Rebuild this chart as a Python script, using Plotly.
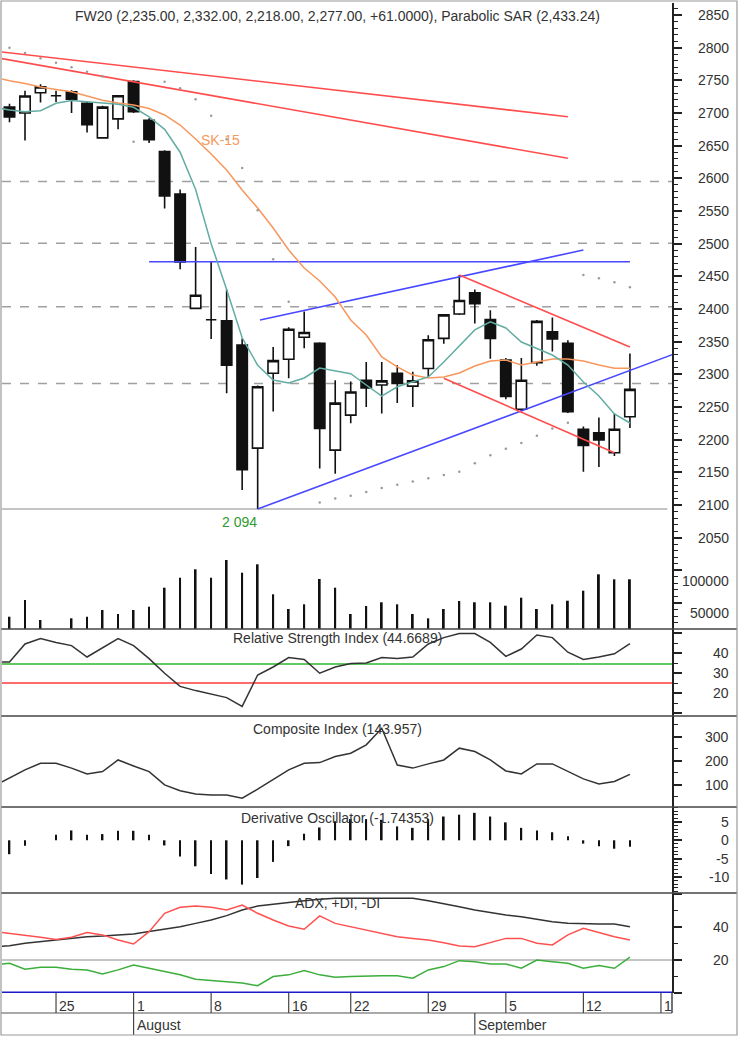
import plotly.graph_objects as go

# ---------------- data ----------------
dates = ["2011-07-20", "2011-07-21", "2011-07-22", "2011-07-25", "2011-07-26", "2011-07-27",
         "2011-07-28", "2011-07-29", "2011-08-01", "2011-08-02", "2011-08-03", "2011-08-04",
         "2011-08-05", "2011-08-08", "2011-08-09", "2011-08-10", "2011-08-11", "2011-08-12",
         "2011-08-16", "2011-08-17", "2011-08-18", "2011-08-19", "2011-08-22", "2011-08-23",
         "2011-08-24", "2011-08-25", "2011-08-26", "2011-08-29", "2011-08-30", "2011-08-31",
         "2011-09-01", "2011-09-02", "2011-09-05", "2011-09-06", "2011-09-07", "2011-09-08",
         "2011-09-09", "2011-09-12", "2011-09-13", "2011-09-14", "2011-09-15"]
future_sessions = ["2011-09-16", "2011-09-19"]

open_ = [2709, 2700, 2731, 2726.5, 2732.6, 2715, 2662, 2691, 2748, 2689, 2641, 2576, 2401, 2383.6,
         2382, 2345, 2187, 2301.6, 2323, 2356.7, 2347.5, 2184, 2237.5, 2291, 2283.7, 2301.6, 2282,
         2309, 2355, 2392.4, 2425, 2384, 2322, 2246.5, 2318, 2365, 2347.5, 2216, 2210.6, 2180, 2235]
high = [2714, 2734, 2744, 2734, 2735, 2717, 2711, 2727, 2750, 2692, 2643, 2583, 2495, 2472, 2430,
        2355, 2283, 2342, 2372, 2396, 2349, 2291, 2289, 2319, 2319, 2314, 2304, 2360, 2392, 2452,
        2430, 2398, 2325, 2325, 2383, 2387, 2352, 2220, 2234, 2240, 2332]
low = [2686, 2658, 2716, 2717, 2700, 2670, 2661, 2675, 2700, 2654, 2554, 2461, 2401, 2354, 2271,
       2123, 2094, 2243, 2294, 2340, 2156, 2148, 2225, 2250, 2240, 2256, 2250, 2296, 2347, 2391,
       2378, 2324, 2262, 2243, 2313, 2335, 2241, 2151, 2158, 2175, 2218]
close = [2694, 2726, 2740, 2726.5, 2721, 2682, 2709, 2726.5, 2702, 2659, 2573, 2472, 2421, 2383.6,
         2314, 2154, 2281, 2321, 2369, 2364, 2217, 2256, 2273, 2279, 2290, 2286, 2290, 2353, 2391,
         2413, 2408, 2355, 2266, 2291, 2381, 2354, 2243, 2191, 2199.5, 2216, 2277]
volume = [43300, 69800, 38100, 22000, 40800, 43300, 54000, 47600, 54000, 59200, 89400, 105200,
          118600, 105200, 133300, 113200, 126500, 78900, 55600, 63000, 103200, 89400, 47600, 60300,
          66200, 63000, 47600, 40800, 55600, 68300, 66200, 66200, 60800, 73500, 55600, 63000, 68700,
          84600, 110600, 102700, 102700]
sar = [2800, 2792, 2784, 2777, 2770, 2763, 2756, None, 2656, None, 2748, 2738, 2721, 2696, 2660,
       2616, 2551, 2476, 2411, None, 2104, 2110, 2114, 2120, 2126, 2131, 2136, 2141, 2146, 2151,
       2164, 2176, 2186, 2195, 2206, 2217, 2226, 2452, 2447, 2441, 2433.24]
derivative = [-3.8, -1.5, 0, 1.5, 2.7, 1.5, 1.7, 2.6, 2.6, 1.5, -1.4, -4.4, -7.1, -9.2, -10.7,
              -12.1, -10.3, -5.9, -1.6, 1.8, 3.5, 5.2, 5.8, 5.8, 5.6, 3.8, 3.4, 5.8, 6.5, 7.0, 7.5,
              6.5, 4.9, 3.4, 2.7, 2.2, 1.1, -0.9, -1.6, -2.3, -1.74353]

# line indicators start one session earlier (2011-07-19)
ma_short = [2709, 2704.6, 2702, 2703.5, 2714.9, 2719, 2717.3, 2715, 2713.3, 2708.7, 2694.3, 2675,
            2640, 2583, 2500, 2430, 2356, 2314, 2291.3, 2286.7, 2294.4, 2309.7, 2305, 2301, 2283.7,
            2266.8, 2281, 2288.7, 2296, 2319, 2343.4, 2368, 2380.4, 2370.9, 2349.5, 2339, 2329.6,
            2314.3, 2288.3, 2266.8, 2239.3, 2225.5]
ma_sk15 = [2755, 2749.4, 2745.2, 2739.8, 2736, 2732.4, 2726, 2719.4, 2715.3, 2712.3, 2706.9, 2697,
           2681.6, 2660.2, 2637.2, 2612.8, 2582.1, 2554.6, 2524, 2490.3, 2462.8, 2442.9, 2418.4,
           2383.2, 2360.2, 2326.6, 2311.3, 2299, 2294.4, 2296, 2302.1, 2312.8, 2320.4, 2322,
           2314.3, 2318.9, 2323.5, 2323.5, 2320.4, 2314.3, 2309.3, 2309.3]
rsi = [35.5, 35.5, 44.5, 47.2, 45.3, 43.7, 38, 42.8, 47.2, 43.7, 37.2, 29.9, 23.3, 21.2, 19.6, 17.7,
       13.3, 29, 33, 37.7, 36.8, 29.9, 33, 34.7, 35, 37.7, 37.2, 38, 44.5, 47.7, 49.7, 49.7, 45.3,
       38.3, 42, 49, 47.7, 40.4, 36.8, 38, 39.6, 44.6689]
composite = [95, 128, 162.5, 190, 190, 170, 146, 155.5, 204, 179, 155.5, 100, 76, 62.5, 58, 58, 44.6,
             82, 121, 162.5, 190, 193, 218, 232, 267, 336, 183, 170, 187.5, 204, 253, 239, 204, 158,
             146, 187.5, 187.5, 155.5, 125, 104, 114, 143.957]
adx = [27.8, 28.7, 30.1, 31.1, 32.5, 33.1, 34.1, 34.5, 35.2, 35.8, 37.2, 38.6, 40.2, 42.2, 44.2,
       46.9, 50.3, 52.7, 53.9, 54.7, 55.9, 56.8, 57.4, 57.4, 57.4, 57.4, 57.4, 57.4, 55.9, 54.3,
       52.3, 50.3, 48.7, 47.3, 46.2, 44.6, 43.2, 42.2, 41.8, 41.8, 41.8, 40.2]
minus_di = [37.2, 36.2, 35.2, 33.8, 32.5, 33.8, 36.6, 35.2, 32.1, 29.7, 37.2, 48.3, 51.9, 52.7, 51.9,
            50.3, 53.3, 48.3, 44.2, 40.6, 38.6, 46.7, 42.2, 40.2, 38.2, 36.2, 34.1, 33.1, 32.1,
            30.5, 28.5, 28.1, 30.5, 33.1, 33.1, 30.1, 29.1, 35.2, 39.2, 36.6, 34.1, 32.1]
plus_di = [17.0, 18, 14.4, 15.6, 15.6, 14.4, 14, 11.6, 14, 17, 15, 13, 11, 8.4, 7.6, 6.4, 6, 4.4, 10,
           11, 13.6, 11, 9.6, 10, 10.4, 10.4, 10.4, 9, 14, 16, 19.6, 19, 17.6, 17.6, 15, 20, 19, 18,
           15, 16.6, 15, 21.7]

# drawn trend lines (session index, price)
red_res1_x, red_res1_y = [-0.61, 36], [2793.8, 2694.3]
red_res2_x, red_res2_y = [-0.61, 36], [2783.7, 2630.7]
blue_hor_x, blue_hor_y = [9, 40], [2472.4, 2472.4]
blue_up_x, blue_up_y = [16.15, 37.0], [2383.2, 2490.3]
blue_low_x, blue_low_y = [16, 43], [2094, 2332.5]
red_ch_up_x, red_ch_up_y = [29, 40], [2452, 2342]
red_ch_low_x, red_ch_low_y = [28, 39], [2294, 2180]
dashed_levels = [2595, 2500.5, 2403.5, 2286]
low_level = 2094
rsi_green_level, rsi_red_level = 34.5, 25
adx_ref_level = 20

day_tick_dates = ["2011-07-25", "2011-08-01", "2011-08-08", "2011-08-16", "2011-08-22",
                  "2011-08-29", "2011-09-05", "2011-09-12", "2011-09-19"]
day_tick_text = ["25", "1", "8", "16", "22", "29", "5", "12", "1"]
month_tick_dates = ["2011-08-01", "2011-09-01"]
month_tick_text = ["August", "September"]

price_ticks = list(range(2050, 2851, 50))
volume_ticks = [50000, 100000]
rsi_ticks = [20, 30, 40]
comp_ticks = [100, 200, 300]
deriv_ticks = [-10, -5, 0, 5]
adx_ticks = [20, 40]

title_text = "FW20 (2,235.00, 2,332.00, 2,218.00, 2,277.00, +61.0000), Parabolic SAR (2,433.24)"

# ---------------- geometry ----------------
W, H = 740, 1037
ML, MR, MT, MB = 2, 68, 3, 44
PW, PH = W - ML - MR, H - MT - MB


def ypap(py):
    return (H - MB - py) / PH


def xpap(px):
    return (px - ML) / PW


edges = [3, 629, 716, 807, 893, 993]
dom = [[ypap(edges[i + 1]), ypap(edges[i])] for i in range(5)]

FONT = "Liberation Sans, Arial, sans-serif"
TXT = "#333333"
AX = "#222222"

sessions = dates + future_sessions
x = list(range(len(dates)))
xl = list(range(-1, len(dates)))

fig = go.Figure()

# price panel
for lx, ly, col in [(red_res1_x, red_res1_y, "#ff4d4d"), (red_res2_x, red_res2_y, "#ff4d4d"),
                    (blue_hor_x, blue_hor_y, "#4848ff"), (blue_up_x, blue_up_y, "#4848ff"),
                    (blue_low_x, blue_low_y, "#4848ff"), (red_ch_up_x, red_ch_up_y, "#ff4d4d"),
                    (red_ch_low_x, red_ch_low_y, "#ff4d4d")]:
    fig.add_trace(go.Scatter(x=lx, y=ly, mode="lines", line=dict(color=col, width=1.6),
                             xaxis="x", yaxis="y", hoverinfo="skip"))

fig.add_trace(go.Scatter(x=xl, y=ma_sk15, mode="lines", line=dict(color="#f7975d", width=1.5),
                         xaxis="x", yaxis="y"))
fig.add_trace(go.Scatter(x=xl, y=ma_short, mode="lines", line=dict(color="#62ada3", width=1.5),
                         xaxis="x", yaxis="y"))
fig.add_trace(go.Scatter(x=x, y=sar, mode="markers", marker=dict(color="#9a9a9a", size=2.5),
                         xaxis="x", yaxis="y"))
fig.add_trace(go.Candlestick(
    x=x, open=open_, high=high, low=low, close=close, xaxis="x", yaxis="y",
    increasing=dict(line=dict(color="#111111", width=1.6), fillcolor="#ffffff"),
    decreasing=dict(line=dict(color="#111111", width=1.6), fillcolor="#111111"),
    whiskerwidth=0))
fig.add_trace(go.Bar(x=x, y=volume, width=0.12, marker=dict(color="#111111", line=dict(width=0)),
                     xaxis="x", yaxis="y6"))

# RSI
fig.add_trace(go.Scatter(x=xl, y=rsi, mode="lines", line=dict(color="#333333", width=1.5),
                         xaxis="x", yaxis="y2"))
# Composite
fig.add_trace(go.Scatter(x=xl, y=composite, mode="lines", line=dict(color="#333333", width=1.5),
                         xaxis="x", yaxis="y3"))
# Derivative oscillator
fig.add_trace(go.Bar(x=x, y=derivative, width=0.11, marker=dict(color="#111111", line=dict(width=0)),
                     xaxis="x", yaxis="y4"))
# ADX
fig.add_trace(go.Scatter(x=xl, y=adx, mode="lines", line=dict(color="#333333", width=1.5),
                         xaxis="x", yaxis="y5"))
fig.add_trace(go.Scatter(x=xl, y=minus_di, mode="lines", line=dict(color="#ff5050", width=1.5),
                         xaxis="x", yaxis="y5"))
fig.add_trace(go.Scatter(x=xl, y=plus_di, mode="lines", line=dict(color="#3cae3c", width=1.5),
                         xaxis="x", yaxis="y5"))


def yax(domain, rng, dtick, minor_dtick):
    return dict(domain=domain, range=rng, side="right", anchor="x", showline=True,
                linecolor=AX, linewidth=2, ticks="outside", ticklen=8, tickwidth=1.5,
                tickcolor=AX, tickmode="linear", tick0=0, dtick=dtick, showticklabels=False,
                showgrid=False, zeroline=False, fixedrange=True,
                minor=dict(ticks="outside", ticklen=4, tickwidth=1, tickcolor=AX,
                           dtick=minor_dtick, tick0=0, showgrid=False))


layout = dict(
    width=W, height=H, margin=dict(l=ML, r=MR, t=MT, b=MB, pad=0),
    paper_bgcolor="white", plot_bgcolor="white", showlegend=False, barmode="overlay",
    boxgap=0.33, boxgroupgap=0,
    font=dict(family=FONT, size=14, color=TXT),
    xaxis=dict(domain=[0, 1], range=[-0.4836, 42.713], anchor="y5", showticklabels=False,
               ticks="", showline=False, showgrid=False, zeroline=False,
               rangeslider=dict(visible=False)),
    yaxis=yax(dom[0], [1910.2, 2868.4], 50, 10),
    yaxis2=yax(dom[1], [8.5, 52], 10, 5),
    yaxis3=yax(dom[2], [8, 387], 100, 50),
    yaxis4=yax(dom[3], [-14.4, 9.1], 5, 1),
    yaxis5=yax(dom[4], [0, 60.6], 20, 10),
    yaxis6=dict(overlaying="y", range=[23810, 1017460], visible=False, anchor="x", side="right"),
)
fig.update_layout(**layout)

shapes = []
for lvl in dashed_levels:
    shapes.append(dict(type="line", xref="paper", x0=0, x1=1, yref="y", y0=lvl, y1=lvl,
                       line=dict(color="#a0a0a0", width=1.5, dash="dash"), layer="below"))
shapes.append(dict(type="line", xref="paper", x0=0, x1=0.993, yref="y", y0=low_level, y1=low_level,
                   line=dict(color="#b0b0b0", width=1.5), layer="below"))
shapes.append(dict(type="line", xref="paper", x0=0, x1=1, yref="y2", y0=rsi_green_level,
                   y1=rsi_green_level, line=dict(color="#62c962", width=2), layer="below"))
shapes.append(dict(type="line", xref="paper", x0=0, x1=1, yref="y2", y0=rsi_red_level,
                   y1=rsi_red_level, line=dict(color="#ff6a6a", width=2), layer="below"))
shapes.append(dict(type="line", xref="paper", x0=0, x1=1, yref="y5", y0=adx_ref_level,
                   y1=adx_ref_level, line=dict(color="#8a8a8a", width=1), layer="below"))
shapes.append(dict(type="line", xref="paper", x0=0, x1=1, yref="y5", y0=0, y1=0,
                   line=dict(color="#1a1ac8", width=3)))
# panel separators
for py in edges[1:-1]:
    shapes.append(dict(type="line", xref="paper", x0=xpap(1), x1=xpap(737), yref="paper",
                       y0=ypap(py), y1=ypap(py), line=dict(color="#444444", width=1.5)))
# date rows
shapes.append(dict(type="line", xref="paper", x0=xpap(1), x1=1, yref="paper",
                   y0=ypap(1013), y1=ypap(1013), line=dict(color="#555555", width=1.2)))
shapes.append(dict(type="line", xref="paper", x0=1, x1=1, yref="paper",
                   y0=ypap(993), y1=ypap(1013), line=dict(color="#444444", width=1.5)))
tick_idx = [sessions.index(d) for d in day_tick_dates]
for ti in tick_idx:
    shapes.append(dict(type="line", xref="x", x0=ti, x1=ti, yref="paper",
                       y0=ypap(993), y1=ypap(1013), line=dict(color="#444444", width=1.2)))
month_idx = [sessions.index(d) for d in month_tick_dates]
for mi in month_idx:
    shapes.append(dict(type="line", xref="x", x0=mi, x1=mi, yref="paper",
                       y0=ypap(1013), y1=ypap(1035), line=dict(color="#444444", width=1.2)))
# outer frame
shapes.append(dict(type="rect", xref="paper", yref="paper", x0=xpap(1), x1=xpap(737),
                   y0=ypap(1035), y1=ypap(1), line=dict(color="#9a9a9a", width=1.2)))
fig.update_layout(shapes=shapes)

ann = []


def label(text, xv, yv, xref="paper", yref="paper", xanchor="center", color=TXT, xshift=0):
    ann.append(dict(text=text, x=xv, y=yv, xref=xref, yref=yref, xanchor=xanchor,
                    yanchor="middle", showarrow=False, xshift=xshift,
                    font=dict(family=FONT, size=14, color=color)))


label(title_text, 0.5, ypap(16))
label("Relative Strength Index (44.6689)", 0.5, ypap(638))
label("Composite Index (143.957)", 0.5, ypap(729))
label("Derivative Oscillator (-1.74353)", 0.5, ypap(818))
label("ADX, +DI, -DI", 0.5, ypap(903))
label("SK-15", 13.6, 2659, xref="x", yref="y", color="#f7975d")
label("2 094", 16, 2074, xref="x", yref="y", xanchor="right", color="#2f9a2f", xshift=1)

for ref, vals in [("y", price_ticks), ("y6", volume_ticks), ("y2", rsi_ticks),
                  ("y3", comp_ticks), ("y4", deriv_ticks), ("y5", adx_ticks)]:
    for v in vals:
        label(str(v), 1, v, xref="paper", yref=ref, xanchor="right", xshift=59)

for ti, t in zip(tick_idx, day_tick_text):
    label(t, ti, ypap(1006), xref="x", xanchor="left", xshift=1)
for mi, t in zip(month_idx, month_tick_text):
    label(t, mi, ypap(1025), xref="x", xanchor="left", xshift=1)

fig.update_layout(annotations=ann)
fig.write_html("out.html")
